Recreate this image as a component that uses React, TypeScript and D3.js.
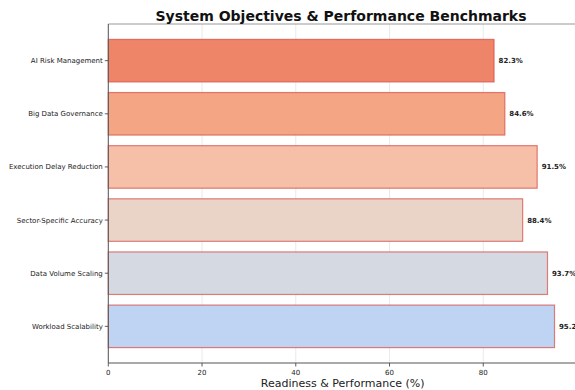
import React from "react";
import * as d3 from "d3";

const categories = [
  "AI Risk Management",
  "Big Data Governance",
  "Execution Delay Reduction",
  "Sector-Specific Accuracy",
  "Data Volume Scaling",
  "Workload Scalability",
];
const values = [82.3, 84.6, 91.5, 88.4, 93.7, 95.2];
const barColors = ["#EE8468", "#F4A584", "#F5C0A7", "#EAD4C8", "#D5DAE2", "#BFD4F2"];
const xTicks = [0, 20, 40, 60, 80];

const W = 575;
const H = 390;
const left = 108.3;
const right = 577;
const top = 24;
const bottom = 363;
const font = "DejaVu Sans, sans-serif";

export default function App() {
  const x = d3.scaleLinear().domain([0, 100]).range([left, right]);
  // matplotlib-style categorical axis: bar height 0.8, 5% margins
  const y = d3.scaleLinear().domain([-0.69, 5.69]).range([top, bottom]);
  const barH = y(0.8) - y(0);

  return (
    <svg width={W} height={H} style={{ position: "absolute", left: 0, top: 0 }}>
      <rect width={W} height={H} fill="#fff" />
      {xTicks.map((t) => (
        <line key={"g" + t} x1={x(t)} x2={x(t)} y1={top} y2={bottom} stroke="#b0b0b0" strokeOpacity={0.35} strokeWidth={0.8} />
      ))}
      {categories.map((c, i) => (
        <g key={c}>
          <rect
            x={x(0)}
            y={y(i) - barH / 2}
            width={x(values[i]) - x(0)}
            height={barH}
            fill={barColors[i]}
            stroke="#d9534f"
            strokeOpacity={0.75}
            strokeWidth={1.2}
          />
          <text
            x={x(values[i]) + 4.5}
            y={y(i)}
            dy="0.35em"
            fontSize={7}
            fontWeight="bold"
            fontFamily={font}
            fill="#222"
          >
            {values[i].toFixed(1)}%
          </text>
          <line x1={left - 3.5} x2={left} y1={y(i)} y2={y(i)} stroke="#333" strokeWidth={0.8} />
          <text x={left - 5.5} y={y(i)} dy="0.35em" textAnchor="end" fontSize={7} fontFamily={font} fill="#222">
            {c}
          </text>
        </g>
      ))}
      {xTicks.map((t) => (
        <g key={"t" + t}>
          <line x1={x(t)} x2={x(t)} y1={bottom} y2={bottom + 3.5} stroke="#333" strokeWidth={0.8} />
          <text x={x(t)} y={bottom + 11.5} textAnchor="middle" fontSize={7} fontFamily={font} fill="#222">
            {t}
          </text>
        </g>
      ))}
      <line x1={left} x2={right} y1={top} y2={top} stroke="#999" strokeWidth={1} />
      <line x1={right} x2={right} y1={top} y2={bottom} stroke="#999" strokeWidth={1} />
      <line x1={left} x2={left} y1={top} y2={bottom} stroke="#555" strokeWidth={1} />
      <line x1={left} x2={right} y1={bottom} y2={bottom} stroke="#555" strokeWidth={1} />
      <text x={(left + right) / 2} y={386.5} textAnchor="middle" fontSize={11} fontFamily={font} fill="#222">
        Readiness &amp; Performance (%)
      </text>
      <text x={341} y={20.5} textAnchor="middle" fontSize={14} fontWeight="bold" fontFamily={font} fill="#111">
        System Objectives &amp; Performance Benchmarks
      </text>
    </svg>
  );
}
